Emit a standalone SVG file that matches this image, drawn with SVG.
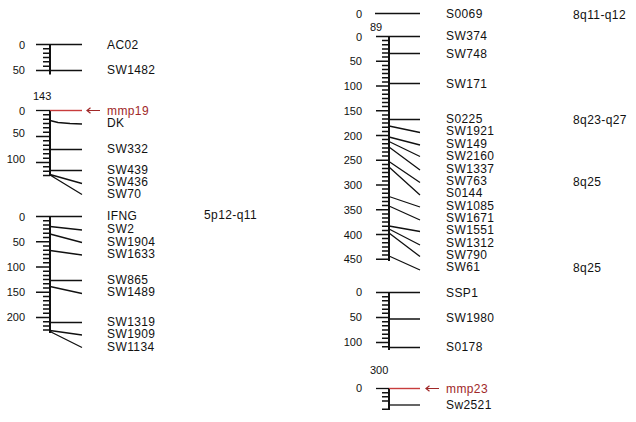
<svg xmlns="http://www.w3.org/2000/svg" width="636" height="422" viewBox="0 0 636 422">
<style>
.bg{fill:#fff}
.ax{stroke:#111;stroke-width:2;fill:none}
.tk{stroke:#111;stroke-width:1.5;fill:none}
.mk{stroke:#111;stroke-width:1.3;fill:none}
.red{stroke:#c83c3c;stroke-width:1.4;fill:none}
.arr{stroke:#a02828;stroke-width:1.2;fill:none}
text{font-family:"Liberation Sans",Arial,sans-serif;fill:#111}
.lbl{font-size:12px;letter-spacing:0.4px}
.num{font-size:11px;text-anchor:end}
.top{font-size:11px}
.rl{fill:#a02828}
</style>
<rect class="bg" x="0" y="0" width="636" height="422"/>

<g id="lg-5a">
  <path class="ax" d="M50,44.5V74.5"/>
  <path class="tk" d="M43,48.8H50M43,53.2H50M43,57.5H50M43,61.8H50M43,66.2H50"/>
  <text class="num" x="25" y="49">0</text>
  <text class="num" x="25" y="74">50</text>
  <path class="mk" d="M36,44.5H82M36,70.5H82"/>
  <text class="lbl" x="107" y="49">AC02</text>
  <text class="lbl" x="107" y="74">SW1482</text>
</g>

<g id="lg-5b">
  <text class="top" x="33" y="100">143</text>
  <path class="ax" d="M50,110.5V176"/>
  <path class="tk" d="M43,114.8H50M43,119.2H50M43,123.5H50M43,127.8H50M43,132.2H50M36,136.5H50M43,140.8H50M43,145.2H50M43,149.5H50M43,153.8H50M43,158.2H50M36,162.5H50M43,166.8H50M43,171.2H50M43,175.5H50"/>
  <text class="num" x="25" y="114.5">0</text>
  <text class="num" x="25" y="137">50</text>
  <text class="num" x="25" y="162.5">100</text>
  <path class="mk" d="M36,110.5H50"/>
  <path class="red" d="M50,110.5H82"/>
  <path class="arr" d="M87,110.5H100M90.5,107.8L87,110.5L90.5,113.2"/>
  <text class="lbl rl" x="107" y="114.5">mmp19</text>
  <path class="mk" d="M50,120.5L58,122.5L70,123.5L82,124M50,149.5H82M50,170.5H82M50,174.5L82,183.5M50,175L82,194.5"/>
  <text class="lbl" x="107" y="127">DK</text>
  <text class="lbl" x="107" y="152.5">SW332</text>
  <text class="lbl" x="107" y="173.5">SW439</text>
  <text class="lbl" x="107" y="186">SW436</text>
  <text class="lbl" x="107" y="198">SW70</text>
</g>

<g id="lg-5c">
  <path class="ax" d="M50,216.5V333"/>
  <path class="tk" d="M43,220.7H50M43,224.9H50M43,229.1H50M43,233.3H50M43,237.5H50M36,241.75H50M43,246H50M43,250.2H50M43,254.4H50M43,258.6H50M43,262.8H50M36,267H50M43,271.2H50M43,275.4H50M43,279.6H50M43,283.8H50M43,288H50M36,292.25H50M43,296.5H50M43,300.7H50M43,304.9H50M43,309.1H50M43,313.3H50M36,317.5H50M43,321.7H50M43,325.9H50M43,330.1H50"/>
  <text class="num" x="25" y="220.5">0</text>
  <text class="num" x="25" y="245.5">50</text>
  <text class="num" x="25" y="270.5">100</text>
  <text class="num" x="25" y="295.5">150</text>
  <text class="num" x="25" y="320.5">200</text>
  <path class="mk" d="M36,216.5H82M50,226.5L82,230M50,234L82,242.5M50,250.5L82,255M50,280.5H82M50,286.5L82,293.5M50,322.5H82M50,330.5L82,335M50,331.5L82,347.5"/>
  <text class="lbl" x="107" y="220">IFNG</text>
  <text class="lbl" x="107" y="233">SW2</text>
  <text class="lbl" x="107" y="245.5">SW1904</text>
  <text class="lbl" x="107" y="257.5">SW1633</text>
  <text class="lbl" x="107" y="284">SW865</text>
  <text class="lbl" x="107" y="296">SW1489</text>
  <text class="lbl" x="107" y="325.5">SW1319</text>
  <text class="lbl" x="107" y="337.5">SW1909</text>
  <text class="lbl" x="107" y="350.5">SW1134</text>
  <text class="lbl" x="204" y="219">5p12-q11</text>
</g>

<g id="lg-8a">
  <text class="num" x="362" y="17.5">0</text>
  <path class="mk" d="M375,13.5H420"/>
  <text class="lbl" x="446" y="17.5">S0069</text>
  <text class="lbl" x="573" y="18.5">8q11-q12</text>
</g>

<g id="lg-8b">
  <text class="top" x="370" y="31">89</text>
  <path class="ax" d="M389,36.5V261"/>
  <path class="tk" d="M382,40.6H389M382,44.8H389M382,48.9H389M382,53H389M382,57.1H389M376,61.25H389M382,65.4H389M382,69.5H389M382,73.6H389M382,77.8H389M382,81.9H389M376,86H389M382,90.1H389M382,94.3H389M382,98.4H389M382,102.5H389M382,106.6H389M376,110.75H389M382,114.9H389M382,119H389M382,123.1H389M382,127.3H389M382,131.4H389M376,135.5H389M382,139.6H389M382,143.8H389M382,147.9H389M382,152H389M382,156.1H389M376,160.25H389M382,164.4H389M382,168.5H389M382,172.6H389M382,176.8H389M382,180.9H389M376,185H389M382,189.1H389M382,193.3H389M382,197.4H389M382,201.5H389M382,205.6H389M376,209.75H389M382,213.9H389M382,218H389M382,222.1H389M382,226.3H389M382,230.4H389M376,234.5H389M382,238.6H389M382,242.8H389M382,246.9H389M382,251H389M382,255.1H389M376,259.25H389"/>
  <text class="num" x="362" y="40.5">0</text>
  <text class="num" x="362" y="65">50</text>
  <text class="num" x="362" y="90">100</text>
  <text class="num" x="362" y="114.5">150</text>
  <text class="num" x="362" y="139.5">200</text>
  <text class="num" x="362" y="164">250</text>
  <text class="num" x="362" y="189">300</text>
  <text class="num" x="362" y="213.5">350</text>
  <text class="num" x="362" y="238.5">400</text>
  <text class="num" x="362" y="263">450</text>
  <path class="mk" d="M376,36.5H420M389,53.5H420M389,83.5H420M389,119.5H420M389,126L420,132.5M389,137L420,145M389,141.5L420,156.5M389,147L420,170M389,161.5L420,182.5M389,167L420,195M389,196.5L420,207M389,206L420,220M389,226L420,231.5M389,229L420,245M389,233L420,256.5M389,256L420,270"/>
  <text class="lbl" x="446" y="40">SW374</text>
  <text class="lbl" x="446" y="57.5">SW748</text>
  <text class="lbl" x="446" y="87.5">SW171</text>
  <text class="lbl" x="446" y="122.8">S0225</text>
  <text class="lbl" x="446" y="134.8">SW1921</text>
  <text class="lbl" x="446" y="147.5">SW149</text>
  <text class="lbl" x="446" y="160">SW2160</text>
  <text class="lbl" x="446" y="172.5">SW1337</text>
  <text class="lbl" x="446" y="184.5">SW763</text>
  <text class="lbl" x="446" y="197">S0144</text>
  <text class="lbl" x="446" y="209.5">SW1085</text>
  <text class="lbl" x="446" y="222">SW1671</text>
  <text class="lbl" x="446" y="234">SW1551</text>
  <text class="lbl" x="446" y="246.5">SW1312</text>
  <text class="lbl" x="446" y="259">SW790</text>
  <text class="lbl" x="446" y="271">SW61</text>
  <text class="lbl" x="573" y="124">8q23-q27</text>
  <text class="lbl" x="573" y="186">8q25</text>
  <text class="lbl" x="573" y="272">8q25</text>
</g>

<g id="lg-8c">
  <path class="ax" d="M389,292.5V350"/>
  <path class="tk" d="M382,296.7H389M382,300.8H389M382,305H389M382,309.2H389M382,313.3H389M376,317.5H389M382,321.7H389M382,325.8H389M382,330H389M382,334.2H389M382,338.3H389M376,342.5H389M382,346.7H389"/>
  <text class="num" x="362" y="295.5">0</text>
  <text class="num" x="362" y="320.5">50</text>
  <text class="num" x="362" y="345.5">100</text>
  <path class="mk" d="M376,292.5H420M389,319H420M389,347.5H420"/>
  <text class="lbl" x="446" y="296.5">SSP1</text>
  <text class="lbl" x="446" y="322">SW1980</text>
  <text class="lbl" x="446" y="350.5">S0178</text>
</g>

<g id="lg-8d">
  <text class="top" x="370" y="374">300</text>
  <path class="ax" d="M389,388.5V410"/>
  <path class="tk" d="M382,392.7H389M382,396.8H389M382,401H389M382,409.2H389"/>
  <text class="num" x="362" y="392">0</text>
  <path class="mk" d="M376,388.5H389"/>
  <path class="red" d="M389,388.5H420"/>
  <path class="arr" d="M426,388.5H439M429.5,385.8L426,388.5L429.5,391.2"/>
  <text class="lbl rl" x="446" y="392.5">mmp23</text>
  <path class="mk" d="M389,405H420"/>
  <text class="lbl" x="446" y="409">Sw2521</text>
</g>
</svg>
